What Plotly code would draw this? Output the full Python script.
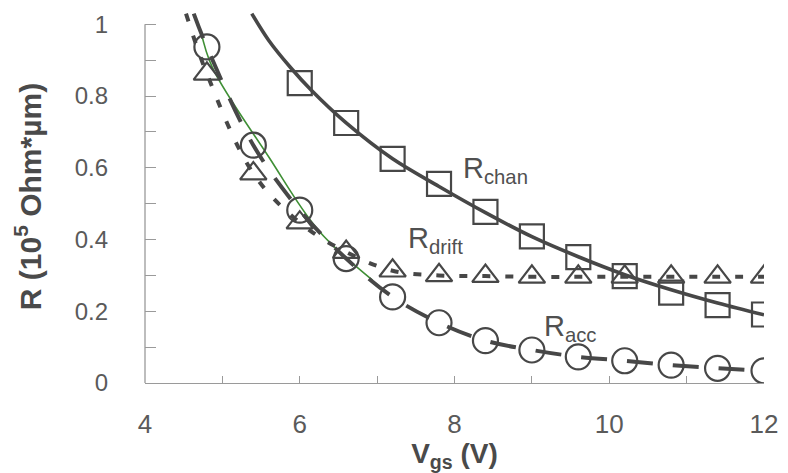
import plotly.graph_objects as go

# Gate voltage sweep (V) for the measured resistance components
vgs = [4.8, 5.4, 6.0, 6.6, 7.2, 7.8, 8.4, 9.0, 9.6, 10.2, 10.8, 11.4, 12.0]
r_acc = [0.937, 0.663, 0.482, 0.347, 0.240, 0.168, 0.118, 0.092, 0.073, 0.062, 0.050, 0.041, 0.034]
r_drift = [0.862, 0.584, 0.447, 0.365, 0.313, 0.300, 0.298, 0.296, 0.296, 0.296, 0.296, 0.296, 0.296]

vgs_chan = [6.0, 6.6, 7.2, 7.8, 8.4, 9.0, 9.6, 10.2, 10.8, 11.4, 12.0]
r_chan = [0.836, 0.725, 0.625, 0.555, 0.477, 0.409, 0.351, 0.298, 0.252, 0.217, 0.191]

# Trend curves (continue beyond the measured points toward low Vgs)
chan_fit_v = [5.38, 5.6, 5.875, 6.15, 6.6, 7.2, 7.8, 8.4, 9.0, 9.6, 10.2, 10.8, 11.4, 12.0]
chan_fit_r = [1.03, 0.955, 0.881, 0.816, 0.725, 0.625, 0.548, 0.475, 0.408, 0.352, 0.302, 0.260, 0.223, 0.190]

acc_fit_v = [4.63] + vgs
acc_fit_r = [1.03] + r_acc

drift_fit_v = [4.53] + vgs
drift_fit_r = [1.03] + r_drift

acc_model_v = [4.72, 4.87, 5.6, 6.24, 6.94]
acc_model_r = [0.983, 0.880, 0.630, 0.426, 0.287]

x_ticks = [4, 5, 6, 7, 8, 9, 10, 11, 12]
x_labels = ["4", "", "6", "", "8", "", "10", "", "12"]
y_ticks = [0, 0.1, 0.2, 0.3, 0.4, 0.5, 0.6, 0.7, 0.8, 0.9, 1.0]
y_labels = ["0", "", "0.2", "", "0.4", "", "0.6", "", "0.8", "", "1"]

INK = "#474747"
AXIS = "#9a9a9a"
FONT = "Liberation Sans, Arial, sans-serif"

fig = go.Figure()

# curves
fig.add_trace(go.Scatter(x=acc_model_v, y=acc_model_r, mode="lines",
                         line=dict(color="#3f8f35", width=1.6, shape="spline"),
                         showlegend=False, hoverinfo="skip"))
fig.add_trace(go.Scatter(x=chan_fit_v, y=chan_fit_r, mode="lines",
                         line=dict(color=INK, width=3.6, shape="spline"),
                         showlegend=False))
fig.add_trace(go.Scatter(x=drift_fit_v, y=drift_fit_r, mode="lines",
                         line=dict(color=INK, width=4, dash="8px,15px", shape="spline"),
                         showlegend=False))
fig.add_trace(go.Scatter(x=acc_fit_v, y=acc_fit_r, mode="lines",
                         line=dict(color=INK, width=4, dash="26px,20px", shape="spline"),
                         showlegend=False))

# measured points
fig.add_trace(go.Scatter(x=vgs_chan, y=r_chan, mode="markers", name="R_chan",
                         marker=dict(symbol="square-open", size=24, color=INK,
                                     line=dict(width=2.2, color=INK)),
                         showlegend=False))
fig.add_trace(go.Scatter(x=vgs, y=r_drift, mode="markers", name="R_drift",
                         marker=dict(symbol="triangle-up-open", size=23, color=INK,
                                     line=dict(width=2.2, color=INK)),
                         showlegend=False))
fig.add_trace(go.Scatter(x=vgs, y=r_acc, mode="markers", name="R_acc",
                         marker=dict(symbol="circle-open", size=25, color=INK,
                                     line=dict(width=2.2, color=INK)),
                         showlegend=False))

label_font = dict(family=FONT, size=29, color="#505050")
for txt, xv, yv in [("R<sub>chan</sub>", 8.09, 0.595),
                    ("R<sub>drift</sub>", 7.378, 0.398),
                    ("R<sub>acc</sub>", 9.134, 0.153)]:
    fig.add_annotation(x=xv, y=yv, xref="x", yref="y", text=txt, showarrow=False,
                       xanchor="left", yanchor="middle", font=label_font)

# y axis line only spans the labelled range
fig.add_shape(type="line", xref="paper", yref="y", x0=0, x1=0, y0=0, y1=1,
              line=dict(color=AXIS, width=1.3))

fig.update_layout(
    width=788, height=473,
    margin=dict(l=145, r=17, t=10, b=90),
    paper_bgcolor="white", plot_bgcolor="white",
    font=dict(family=FONT, color="#5a5a5a"),
    xaxis=dict(range=[4, 12], tickvals=x_ticks, ticktext=x_labels,
               ticks="inside", ticklen=7, tickcolor=AXIS, tickwidth=1.2,
               showline=True, linecolor=AXIS, linewidth=1.3,
               showgrid=False, zeroline=False,
               tickfont=dict(family=FONT, size=26, color="#5a5a5a"),
               ticklabelstandoff=18,
               title=dict(text="<b>V<sub>gs</sub> (V)</b>",
                          font=dict(family=FONT, size=28, color="#4a4a4a"),
                          standoff=0)),
    yaxis=dict(range=[0, 1.04], tickvals=y_ticks, ticktext=y_labels,
               ticks="inside", ticklen=11, tickcolor=AXIS, tickwidth=1.2,
               showline=False, showgrid=False, zeroline=False,
               tickfont=dict(family=FONT, size=24, color="#5a5a5a"),
               ticklabelstandoff=36,
               title=dict(text="<b>R (10<sup>5</sup> Ohm*µm)</b>",
                          font=dict(family=FONT, size=30, color="#4a4a4a"),
                          standoff=24)),
)

fig.write_html("out.html")
